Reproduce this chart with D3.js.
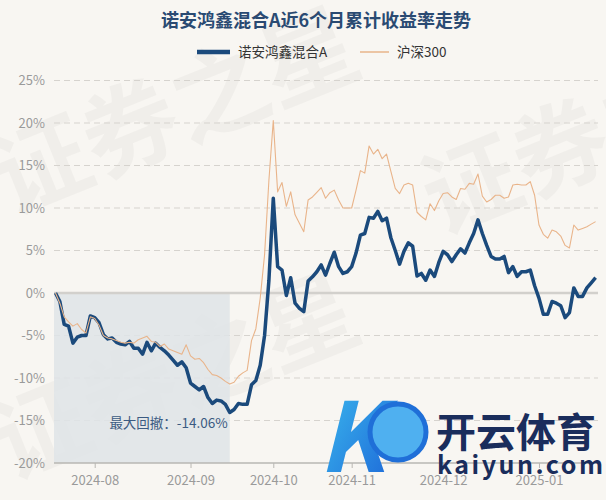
<!DOCTYPE html>
<html>
<head>
<meta charset="utf-8">
<script src="https://cdn.jsdelivr.net/npm/d3@7"></script>
<style>
  body { margin: 0; background: #f8f6f2; }
  text { font-family: "Noto Sans CJK SC", "Noto Sans", sans-serif; }
</style>
</head>
<body>
<script>
let width = 606,
    height = 500;

const title = "诺安鸿鑫混合A近6个月累计收益率走势";
const fundName = "诺安鸿鑫混合A",
      indexName = "沪深300";

// trading days (weekdays minus exchange holidays)
const startDate = "2024-07-19",
      endDate = "2025-01-21";
const holidays = ["2024-09-16", "2024-09-17", "2024-10-01", "2024-10-02", "2024-10-03",
                  "2024-10-04", "2024-10-07", "2025-01-01"];

// cumulative return, %
const fund = [0, -1.0, -3.7, -3.9, -5.9, -5.2, -5.0, -5.0, -2.7, -2.9,
  -3.5, -4.9, -5.4, -5.3, -5.8, -6.0, -6.1, -5.7, -6.5, -6.5,
  -7.2, -5.8, -6.8, -5.9, -6.4, -6.8, -7.3, -7.9, -8.5, -8.1,
  -8.8, -10.6, -11.0, -11.4, -11.0, -12.3, -13.0, -12.6, -12.7, -13.1,
  -14.06, -13.7, -13.0, -13.1, -13.1, -10.8, -10.3, -8.5, -5.0, 1.5,
  11.15, 3.1, 2.7, -0.3, 1.8, -1.2, -1.8, -2.2, 1.4, 1.9,
  2.5, 3.3, 2.1, 3.5, 4.8, 3.1, 2.3, 2.5, 3.1, 4.7,
  6.8, 7.0, 8.9, 8.8, 9.6, 8.5, 8.8, 6.5, 5.0, 3.4,
  4.9, 5.9, 5.5, 2.0, 2.3, 1.5, 2.7, 1.95, 3.6, 4.9,
  4.5, 3.7, 4.5, 5.2, 4.7, 5.9, 7.0, 8.6, 7.0, 5.6,
  4.3, 4.0, 4.0, 4.3, 2.4, 3.1, 1.95, 2.5, 2.5, 2.7,
  0.85, -0.6, -2.5, -2.5, -1.0, -1.2, -1.5, -2.9, -2.3, 0.6,
  -0.4, -0.4, 0.6, 1.2, 1.8];

const csi300 = [0, -1.2, -2.8, -3.4, -3.9, -3.6, -4.3, -4.7, -2.8, -3.0,
  -3.8, -5.0, -5.3, -5.4, -5.6, -5.8, -5.9, -5.8, -5.9, -5.5,
  -5.3, -5.1, -5.7, -5.8, -6.3, -6.0, -6.6, -6.8, -7.0, -7.2,
  -6.1, -7.4, -7.8, -7.7, -8.2, -9.0, -9.6, -9.7, -10.0, -10.4,
  -10.7, -10.5, -9.8, -9.4, -9.1, -5.6, -4.2, -0.6, 4.5, 13.3,
  20.3, 11.9, 13.0, 10.2, 11.9, 9.2, 8.2, 7.2, 10.95, 11.3,
  11.85, 12.4, 11.15, 11.8, 12.1, 10.95, 10.0, 10.0, 10.0, 12.1,
  14.4, 14.1, 17.3, 16.35, 16.9, 15.8, 16.35, 14.3, 12.3, 11.7,
  12.7, 12.9, 12.7, 9.5, 9.0, 8.6, 10.5, 9.7, 10.85, 11.7,
  11.8, 11.3, 11.0, 12.3, 12.2, 12.9, 12.8, 14.0, 11.4, 10.7,
  11.0, 11.5, 11.5, 11.15, 11.3, 12.7, 12.8, 12.7, 12.7, 13.1,
  11.5, 8.0, 6.9, 6.45, 7.4, 7.2, 6.7, 5.6, 5.3, 8.0,
  7.4, 7.6, 7.8, 8.1, 8.4];

const yTicks = [-20, -15, -10, -5, 0, 5, 10, 15, 20, 25];
const maxDrawdown = -14.06;

const fundColor = "#1b4a7c",
      indexColor = "#e9b48a";

const fmt = d3.timeFormat("%Y-%m-%d"),
      parse = d3.timeParse("%Y-%m-%d");
const dates = d3.timeDay.range(parse(startDate), d3.timeDay.offset(parse(endDate), 1))
    .filter(d => d.getDay() % 6 !== 0 && !holidays.includes(fmt(d)))
    .map(fmt);
const monthStarts = dates.filter((d, i) => i > 0 && d.slice(0, 7) !== dates[i - 1].slice(0, 7));

const x = d3.scalePoint()
    .domain(dates)
    .range([55.5, 595.6]);

const y = d3.scaleLinear()
    .domain([-20, 25])
    .range([463, 80.5]);

const svg = d3.select("body").append("svg")
    .attr("width", width)
    .attr("height", height);

svg.append("rect")
    .attr("width", width)
    .attr("height", height)
    .attr("fill", "#f8f6f2");

// watermark
const wm = svg.append("g")
    .attr("fill", "#000")
    .attr("fill-opacity", 0.03)
    .attr("font-size", 96)
    .attr("font-weight", "bold");
[[10, 215], [10, 480], [440, 235]].forEach(function (p) {
    wm.append("text")
        .attr("transform", `translate(${p[0]},${p[1]}) rotate(-22)`)
        .text("证券之星");
});

// grid
svg.append("g")
    .selectAll("line")
    .data(yTicks.filter(d => d !== 0 && d !== -20))
    .enter().append("line")
    .attr("x1", 54)
    .attr("x2", 598)
    .attr("y1", d => y(d))
    .attr("y2", d => y(d))
    .attr("stroke", "#d6d3ce")
    .attr("stroke-dasharray", "6,4");

// max drawdown zone
const troughIdx = fund.indexOf(d3.min(fund));
svg.append("rect")
    .attr("x", x(dates[0]) - 1.5)
    .attr("y", y(0))
    .attr("width", x(dates[troughIdx]) - x(dates[0]) + 1.5)
    .attr("height", y(-20) - y(0))
    .attr("fill", "#dfe4e8")
    .attr("fill-opacity", 0.85);

svg.append("line")
    .attr("x1", 54)
    .attr("x2", 598)
    .attr("y1", y(0))
    .attr("y2", y(0))
    .attr("stroke", "#d2d0cc")
    .attr("stroke-width", 2.5);

// y labels
svg.append("g")
    .selectAll("text")
    .data(yTicks)
    .enter().append("text")
    .attr("x", 45)
    .attr("y", d => y(d))
    .attr("dy", "0.35em")
    .attr("text-anchor", "end")
    .attr("font-size", 13)
    .attr("fill", "#9a9a9a")
    .text(d => d + "%");

// x axis
const xAxis = svg.append("g")
    .attr("transform", `translate(0,${y(-20)})`)
    .call(d3.axisBottom(x)
        .tickValues(monthStarts)
        .tickFormat(d => d.slice(0, 7))
        .tickSize(5)
        .tickSizeOuter(0));
xAxis.select(".domain").remove();
xAxis.append("line")
    .attr("x1", 54)
    .attr("x2", 598)
    .attr("stroke", "#b9b7b3")
    .attr("stroke-width", 1.5);
xAxis.selectAll(".tick line").attr("stroke", "#b9b7b3");
xAxis.selectAll(".tick text")
    .attr("font-size", 13)
    .attr("fill", "#9a9a9a")
    .attr("dy", "1.05em");

// lines
const line = d3.line()
    .x((d, i) => x(dates[i]))
    .y(d => y(d));

svg.append("path")
    .datum(fund)
    .attr("d", line)
    .attr("fill", "none")
    .attr("stroke", fundColor)
    .attr("stroke-width", 3.5)
    .attr("stroke-linejoin", "round");

svg.append("path")
    .datum(csi300)
    .attr("d", line)
    .attr("fill", "none")
    .attr("stroke", indexColor)
    .attr("stroke-width", 1.1)
    .attr("stroke-linejoin", "round");

svg.append("text")
    .attr("x", x(dates[troughIdx]) - 2)
    .attr("y", y(-15) + 3)
    .attr("dy", "0.35em")
    .attr("text-anchor", "end")
    .attr("font-size", 13.5)
    .attr("fill", "#3b5b82")
    .text("最大回撤：" + maxDrawdown.toFixed(2) + "%");

// title
svg.append("text")
    .attr("x", 316)
    .attr("y", 21)
    .attr("dy", "0.35em")
    .attr("text-anchor", "middle")
    .attr("font-size", 18)
    .attr("font-weight", "bold")
    .attr("fill", "#2a4a72")
    .text(title);

// legend
const lg = svg.append("g").attr("transform", "translate(0,52)");
lg.append("line")
    .attr("x1", 197).attr("x2", 230)
    .attr("stroke", fundColor).attr("stroke-width", 4.5);
lg.append("text")
    .attr("x", 238).attr("dy", "0.35em")
    .attr("font-size", 13.5).attr("fill", "#333")
    .text(fundName);
lg.append("line")
    .attr("x1", 360).attr("x2", 389)
    .attr("stroke", indexColor).attr("stroke-width", 1.5);
lg.append("text")
    .attr("x", 397).attr("dy", "0.35em")
    .attr("font-size", 13.5).attr("fill", "#333")
    .text(indexName);

// logo overlay
const logo = svg.append("g");
const grad = svg.append("defs").append("linearGradient")
    .attr("id", "lg1").attr("x1", 0).attr("y1", 0).attr("x2", 1).attr("y2", 1);
grad.append("stop").attr("offset", 0).attr("stop-color", "#3fc4f0");
grad.append("stop").attr("offset", 1).attr("stop-color", "#1a5fd6");
logo.append("text")
    .attr("x", 318).attr("y", 472)
    .attr("font-size", 96).attr("font-style", "italic").attr("font-weight", "bold")
    .attr("fill", "url(#lg1)")
    .text("K");
logo.append("circle")
    .attr("cx", 398).attr("cy", 432).attr("r", 28)
    .attr("fill", "#4fb0f0").attr("stroke", "#1f6fd8").attr("stroke-width", 5);
logo.append("text")
    .attr("x", 436).attr("y", 447)
    .attr("font-size", 40).attr("font-weight", "bold")
    .attr("fill", "#1a2d5c")
    .text("开云体育");
logo.append("text")
    .attr("x", 437).attr("y", 474)
    .attr("font-size", 25).attr("font-weight", "bold")
    .attr("letter-spacing", 2.5)
    .attr("fill", "#1a2d5c")
    .text("kaiyun.com");
</script>
</body>
</html>
